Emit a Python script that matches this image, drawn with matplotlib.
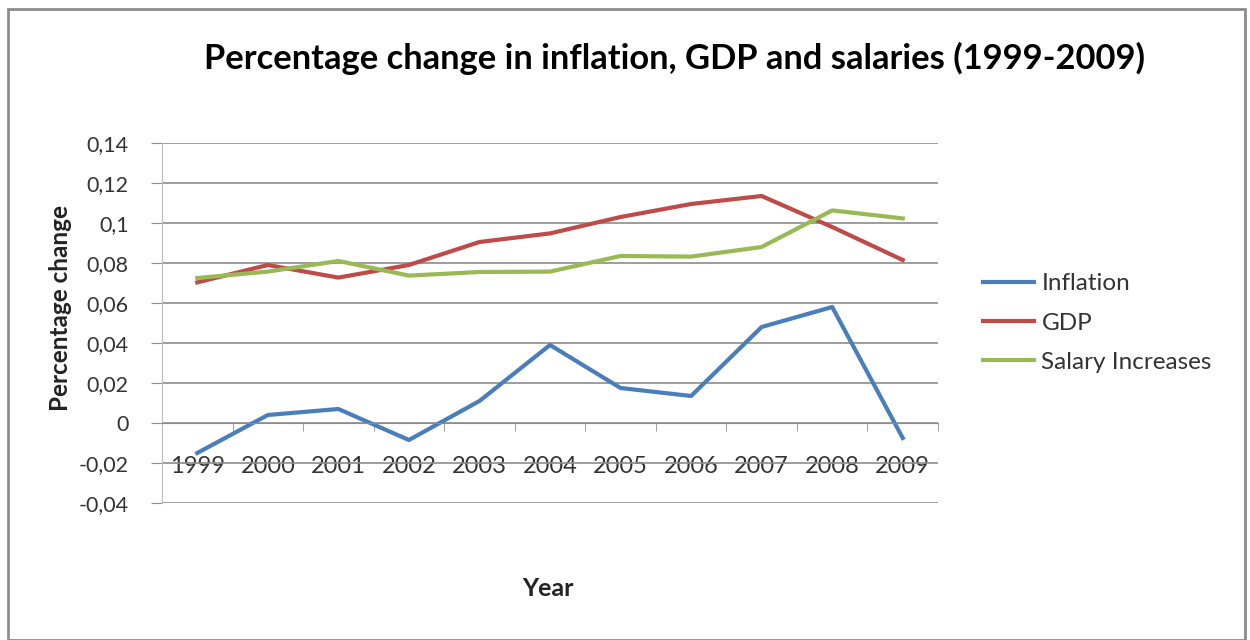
import numpy as np
import matplotlib.pyplot as plt
from matplotlib.patches import Rectangle
from matplotlib.ticker import FixedLocator, FuncFormatter

# Datos anuales (variación porcentual)
years = ['1999', '2000', '2001', '2002', '2003', '2004', '2005', '2006', '2007', '2008', '2009']
inflation = [-0.015, 0.004, 0.007, -0.0085, 0.011, 0.039, 0.0175, 0.0135, 0.048, 0.058, -0.0075]
gdp = [0.0703, 0.079, 0.0727, 0.079, 0.0905, 0.0948, 0.103, 0.1095, 0.1135, 0.098, 0.0815]
salaries = [0.0725, 0.0757, 0.081, 0.0737, 0.0755, 0.0757, 0.0835, 0.0832, 0.088, 0.1063, 0.1023]

plt.rcParams['font.family'] = ['Lato', 'DejaVu Sans']

fig = plt.figure(figsize=(12.5, 6.4), dpi=100)
ax = fig.add_axes([162 / 1250, 137 / 640, 776 / 1250, 360 / 640])

x = np.arange(len(years))
ax.plot(x, inflation, color='#4A7EBB', lw=3, label='Inflation', solid_joinstyle='round')
ax.plot(x, gdp, color='#BE4B48', lw=3, label='GDP', solid_joinstyle='round')
ax.plot(x, salaries, color='#98B954', lw=3, label='Salary Increases', solid_joinstyle='round')

ax.set_xlim(-0.5, len(years) - 0.5)
ax.set_ylim(-0.04, 0.14)
ax.set_yticks(np.arange(-0.04, 0.141, 0.02))
ax.yaxis.set_major_formatter(FuncFormatter(
    lambda v, p: '0' if abs(v) < 1e-9 else ('%g' % round(v, 2)).replace('.', ',')))
ax.grid(axis='y', color='#8C8C8C', lw=1.2)
ax.set_axisbelow(True)

# Eje X cruzando en cero, marcas entre categorías
for s in ['top', 'right']:
    ax.spines[s].set_visible(False)
ax.spines['bottom'].set_position(('data', 0))
ax.spines['bottom'].set_color('#8C8C8C')
ax.spines['left'].set_color('#BBBBBB')
ax.set_xticks(x)
ax.set_xticklabels(years)
ax.xaxis.set_minor_locator(FixedLocator(np.arange(-0.5, len(years), 1)))
ax.tick_params(axis='x', which='major', length=0, pad=24, labelsize=17, labelcolor='#333333')
ax.tick_params(axis='x', which='minor', length=6, color='#8C8C8C', direction='out')
ax.tick_params(axis='y', length=8, color='#8C8C8C', labelsize=15.5, labelcolor='#333333', pad=16)

fig.text(60 / 1250, 1 - 308 / 640, 'Percentage change', fontsize=17.5, fontweight='bold',
         color='#222222', rotation=90, ha='center', va='center')
fig.text(548 / 1250, 1 - 588 / 640, 'Year', fontsize=18, fontweight='bold', color='#222222',
         ha='center', va='center')
fig.text(674 / 1250, 1 - 58 / 640, 'Percentage change in inflation, GDP and salaries (1999-2009)',
         fontsize=24.8, fontweight='bold', color='black', ha='center', va='center')

ax.legend(loc='center left', bbox_to_anchor=(1.030, 0.5), frameon=False, fontsize=17.5,
          handlelength=2.1, handletextpad=0.3, labelspacing=0.76, labelcolor='#333333')

# Marco exterior del gráfico
fig.patches.append(Rectangle((8 / 1250, 0), 1237 / 1250, 631 / 640, transform=fig.transFigure,
                             fill=False, edgecolor='#8C8C8C', lw=2))

plt.savefig('out.png')
